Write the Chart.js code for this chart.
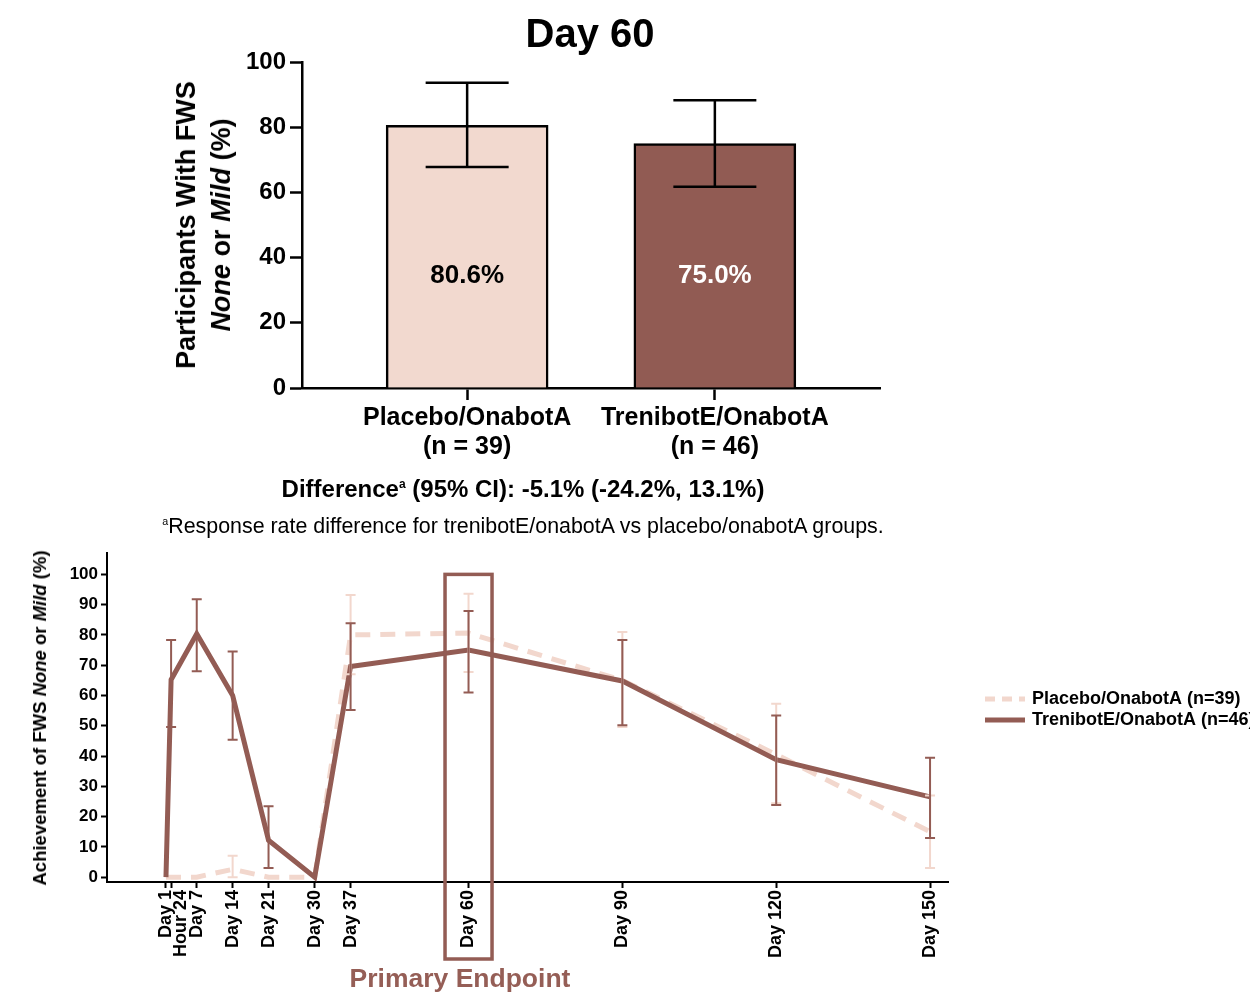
<!DOCTYPE html>
<html>
<head>
<meta charset="utf-8">
<script src="https://cdn.jsdelivr.net/npm/chart.js@4.4.1/dist/chart.umd.min.js"></script>
<style>
  html, body { margin: 0; padding: 0; background: #fff; }
  body { width: 1250px; height: 997px; position: relative; overflow: hidden;
         font-family: "Liberation Sans", Arial, Helvetica, sans-serif; color: #000; }
  .wrap { position: absolute; left: 0; }
  .ctr { position: absolute; transform: translate(-50%, -50%); white-space: nowrap; line-height: 1; }
  .rot { position: absolute; transform: translate(-50%, -50%) rotate(-90deg); white-space: nowrap;
         font-weight: bold; text-align: center; }
  sup.fn { font-size: 0.5em; vertical-align: 0.75em; line-height: 0; }
</style>
</head>
<body>
<div class="wrap" style="top:0;width:1250px;height:540px;"><canvas id="barChart" width="1250" height="540"></canvas></div>
<div class="wrap" style="top:540px;width:1250px;height:457px;"><canvas id="lineChart" width="1250" height="457"></canvas></div>

<div class="ctr" style="left:590px;top:33px;font-size:40px;font-weight:bold;">Day 60</div>
<div class="rot" style="left:204px;top:225px;font-size:27px;line-height:35px;">Participants With FWS<br><i>None</i> or <i>Mild</i> (%)</div>
<div class="ctr" style="left:523px;top:489px;font-size:24px;font-weight:bold;">Difference<sup class="fn">a</sup> (95% CI): -5.1% (-24.2%, 13.1%)</div>
<div class="ctr" style="left:523px;top:527px;font-size:21.4px;"><sup class="fn">a</sup>Response rate difference for trenibotE/onabotA vs placebo/onabotA groups.</div>
<div class="rot" style="left:40px;top:718px;font-size:18.5px;line-height:20px;">Achievement of FWS <i>None</i> or <i>Mild</i> (%)</div>
<div class="ctr" style="left:460px;top:978px;font-size:26.5px;font-weight:bold;color:#955E56;">Primary Endpoint</div>

<script>
// ---------- Data: Day 60 bar chart ----------
const barCategories = ['Placebo/OnabotA', 'TrenibotE/OnabotA'];
const barGroupN     = ['(n = 39)', '(n = 46)'];
const barValues     = [80.6, 75.0];
const barCiLow      = [67.8, 61.7];
const barCiHigh     = [93.6, 88.3];
const barYTicks     = [0, 20, 40, 60, 80, 100];

// ---------- Data: time course ----------
const timepoints   = ['Day 1', 'Hour 24', 'Day 7', 'Day 14', 'Day 21', 'Day 30', 'Day 37', 'Day 60', 'Day 90', 'Day 120', 'Day 150'];
const studyDays    = [1, 2, 7, 14, 21, 30, 37, 60, 90, 120, 150];
const placeboPct   = [0, 0, 0, 2.6, 0, 0, 80.0, 80.6, 65.0, 40.5, 15.0];
const placeboLow   = [null, null, null, 0, null, null, 67.0, 67.8, 49.6, 24.4, 3.0];
const placeboHigh  = [null, null, null, 7.1, null, null, 93.2, 93.6, 81.0, 57.3, 27.0];
const trenibotPct  = [0, 65.2, 80.4, 60.0, 12.2, 0, 69.6, 75.0, 64.8, 38.8, 26.5];
const trenibotLow  = [null, 49.6, 68.0, 45.4, 3.0, null, 55.2, 61.0, 50.2, 23.8, 12.9];
const trenibotHigh = [null, 78.3, 91.8, 74.5, 23.4, null, 83.9, 87.9, 78.3, 53.4, 39.4];
const lineYTicks   = [0, 10, 20, 30, 40, 50, 60, 70, 80, 90, 100];
const seriesNames  = ['Placebo/OnabotA (n=39)', 'TrenibotE/OnabotA (n=46)'];
const primaryEndpointDay = 60;

// ---------- Styles ----------
const FONT = '"Liberation Sans", Arial, Helvetica, sans-serif';
Chart.defaults.font.family = FONT;
Chart.defaults.color = '#000';
const LIGHT = '#F2D7CD';
const DARK = '#935C54';
const barFills = ['#F2D9CF', '#915B53'];
const barLabelColors = ['#000', '#fff'];
const barSlot = i => 1 + 1.5 * i;   // layout slot on the bar chart's x axis

// ---------- Bar chart ----------
const barExtras = {
  id: 'barExtras',
  afterDatasetsDraw(chart) {
    const { ctx, scales: { x, y } } = chart;
    ctx.save();
    ctx.strokeStyle = '#000';
    ctx.lineWidth = 2.5;
    barValues.forEach((v, i) => {
      const px = x.getPixelForValue(barSlot(i));
      const yl = y.getPixelForValue(barCiLow[i]);
      const yh = y.getPixelForValue(barCiHigh[i]);
      const cap = 41.5;
      ctx.beginPath();
      ctx.moveTo(px, yl); ctx.lineTo(px, yh);
      ctx.moveTo(px - cap, yl); ctx.lineTo(px + cap, yl);
      ctx.moveTo(px - cap, yh); ctx.lineTo(px + cap, yh);
      ctx.stroke();
    });
    ctx.font = 'bold 26px ' + FONT;
    ctx.textAlign = 'center';
    ctx.textBaseline = 'middle';
    barValues.forEach((v, i) => {
      ctx.fillStyle = barLabelColors[i];
      ctx.fillText(v.toFixed(1) + '%', x.getPixelForValue(barSlot(i)), y.getPixelForValue(34.5));
    });
    ctx.restore();
  }
};

new Chart(document.getElementById('barChart'), {
  type: 'bar',
  data: {
    datasets: [{
      data: barValues.map((v, i) => ({ x: barSlot(i), y: v })),
      backgroundColor: barFills,
      borderColor: '#000',
      borderWidth: 2.5,
      barThickness: 162
    }]
  },
  options: {
    responsive: false,
    animation: false,
    layout: { padding: { top: 62, right: 370, left: 0, bottom: 0 } },
    plugins: { legend: { display: false }, tooltip: { enabled: false } },
    scales: {
      x: {
        type: 'linear', min: 0, max: 3.5, offset: false,
        grid: { display: true, drawOnChartArea: false, drawTicks: true, tickLength: 12, tickColor: '#000', tickWidth: 2.5, offset: false },
        border: { display: true, color: '#000', width: 2.5 },
        ticks: {
          autoSkip: false, maxRotation: 0, minRotation: 0, padding: 4, color: '#000',
          font: { size: 25, weight: 'bold', lineHeight: 1.16 },
          callback: (val) => {
            const i = barValues.findIndex((_, k) => Math.abs(barSlot(k) - val) < 1e-6);
            return i >= 0 ? [barCategories[i], barGroupN[i]] : '';
          }
        },
        afterBuildTicks: s => { s.ticks = barValues.map((_, i) => ({ value: barSlot(i) })); },
        afterFit: s => { s.height = 152; }
      },
      y: {
        min: 0, max: 100,
        grid: { display: true, drawOnChartArea: false, drawTicks: true, tickLength: 12, tickColor: '#000', tickWidth: 2.5 },
        border: { display: true, color: '#000', width: 2.5 },
        ticks: { padding: 4, color: '#000', font: { size: 24, weight: 'bold' } },
        afterBuildTicks: s => { s.ticks = barYTicks.map(v => ({ value: v })); },
        afterFit: s => { s.width = 302; }
      }
    }
  },
  plugins: [barExtras]
});

// ---------- Line chart ----------
const lowArrays = [placeboLow, trenibotLow];
const highArrays = [placeboHigh, trenibotHigh];

const lineExtras = {
  id: 'lineExtras',
  afterDatasetsDraw(chart) {
    const { ctx, scales: { x, y } } = chart;
    ctx.save();
    chart.data.datasets.forEach((ds, di) => {
      ctx.strokeStyle = ds.borderColor;
      ctx.lineWidth = 2;
      studyDays.forEach((d, j) => {
        const lo = lowArrays[di][j], hi = highArrays[di][j];
        if (lo === null || hi === null) return;
        const px = x.getPixelForValue(d);
        const yl = y.getPixelForValue(lo), yh = y.getPixelForValue(hi);
        ctx.beginPath();
        ctx.moveTo(px, yl); ctx.lineTo(px, yh);
        ctx.moveTo(px - 5, yl); ctx.lineTo(px + 5, yl);
        ctx.moveTo(px - 5, yh); ctx.lineTo(px + 5, yh);
        ctx.stroke();
      });
    });
    ctx.restore();
  },
  afterDraw(chart) {
    const { ctx, scales: { x, y } } = chart;
    ctx.save();
    // primary endpoint box
    const cx = x.getPixelForValue(primaryEndpointDay);
    ctx.strokeStyle = DARK;
    ctx.lineWidth = 3.5;
    ctx.strokeRect(cx - 23.5, y.getPixelForValue(100), 47, 419 - y.getPixelForValue(100));
    // legend
    const lx = 985, ly = [159, 180];
    chart.data.datasets.forEach((ds, i) => {
      ctx.strokeStyle = ds.borderColor;
      ctx.lineWidth = 5;
      ctx.setLineDash(ds.borderDash ? [10, 7] : []);
      ctx.beginPath();
      ctx.moveTo(lx, ly[i]); ctx.lineTo(lx + 40, ly[i]);
      ctx.stroke();
      ctx.setLineDash([]);
      ctx.fillStyle = '#000';
      ctx.font = 'bold 18px ' + FONT;
      ctx.textAlign = 'left';
      ctx.textBaseline = 'middle';
      ctx.fillText(ds.label, lx + 47, ly[i]);
    });
    ctx.restore();
  }
};

new Chart(document.getElementById('lineChart'), {
  type: 'line',
  data: {
    datasets: [
      {
        label: seriesNames[0],
        data: studyDays.map((d, i) => ({ x: d, y: placeboPct[i] })),
        borderColor: LIGHT, borderWidth: 5, borderDash: [15, 10],
        pointRadius: 0, fill: false, tension: 0, order: 1
      },
      {
        label: seriesNames[1],
        data: studyDays.map((d, i) => ({ x: d, y: trenibotPct[i] })),
        borderColor: DARK, borderWidth: 5,
        pointRadius: 0, fill: false, tension: 0, order: 0
      }
    ]
  },
  options: {
    responsive: false,
    animation: false,
    layout: { padding: { top: 11, right: 302, left: 0, bottom: 0 } },
    plugins: { legend: { display: false }, tooltip: { enabled: false } },
    scales: {
      x: {
        type: 'linear', min: -10.5, max: 153.5,
        grid: { display: true, drawOnChartArea: false, drawTicks: true, tickLength: 6, tickColor: '#000', tickWidth: 2 },
        border: { display: true, color: '#000', width: 2 },
        ticks: {
          autoSkip: false, minRotation: 90, maxRotation: 90, padding: 2, color: '#000',
          font: { size: 18, weight: 'bold', lineHeight: 0.83 },
          callback: (val, idx) => {
            if (idx === 0) return [timepoints[0], timepoints[1]];
            if (idx === 1) return '';
            return timepoints[idx];
          }
        },
        afterBuildTicks: s => { s.ticks = studyDays.map(v => ({ value: v })); },
        afterFit: s => { s.height = 115; }
      },
      y: {
        min: -1.6, max: 107,
        grid: { display: true, drawOnChartArea: false, drawTicks: true, tickLength: 6, tickColor: '#000', tickWidth: 2 },
        border: { display: true, color: '#000', width: 2 },
        ticks: { padding: 3, color: '#000', font: { size: 17, weight: 'bold' } },
        afterBuildTicks: s => { s.ticks = lineYTicks.map(v => ({ value: v })); },
        afterFit: s => { s.width = 107; }
      }
    }
  },
  plugins: [lineExtras]
});
</script>
</body>
</html>
